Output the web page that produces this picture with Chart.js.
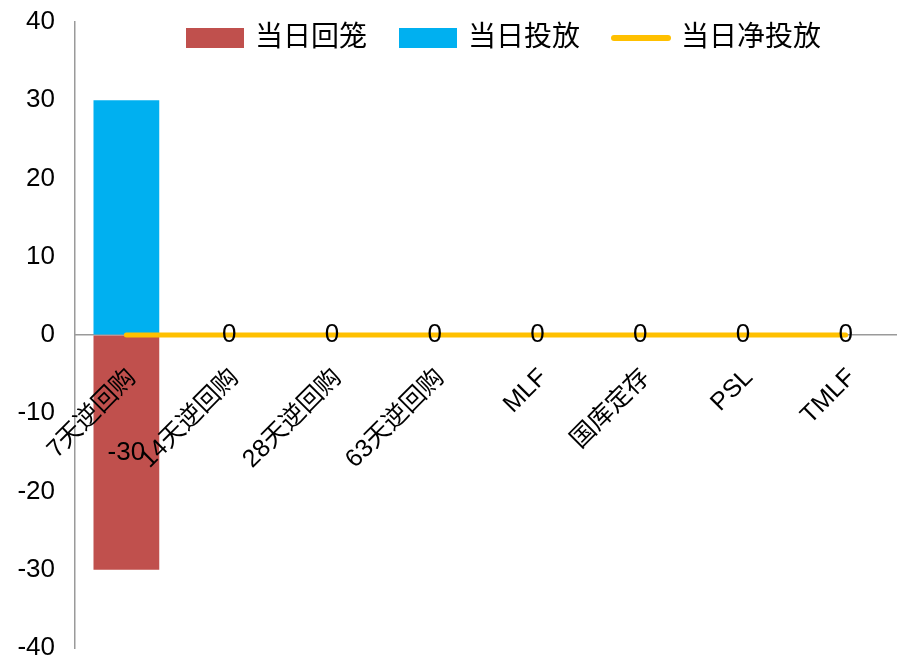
<!DOCTYPE html>
<html>
<head>
<meta charset="utf-8">
<script src="https://cdn.jsdelivr.net/npm/chart.js@4.4.0/dist/chart.umd.min.js"></script>
<style>
html,body{margin:0;padding:0;background:#ffffff;}
#wrap{width:897px;height:658px;position:relative;}
</style>
</head>
<body>
<div id="wrap"><canvas id="c" width="897" height="658"></canvas></div>
<script>
// ---- data ----
const categories = ['7天逆回购', '14天逆回购', '28天逆回购', '63天逆回购', 'MLF', '国库定存', 'PSL', 'TMLF'];
const withdrawal = [-30, 0, 0, 0, 0, 0, 0, 0];   // 当日回笼
const injection = [30, 0, 0, 0, 0, 0, 0, 0];     // 当日投放
const netInjection = [0, 0, 0, 0, 0, 0, 0, 0];   // 当日净投放
const seriesNames = ['当日回笼', '当日投放', '当日净投放'];
const yMin = -40, yMax = 40, yStep = 10;

// ---- styles ----
const FONT = "'Liberation Sans', 'Noto Sans CJK SC', sans-serif";
const colors = ['#C0504D', '#00B0F0', '#FFC000'];
const axisColor = '#9a9a9a';

const valueLabelPlugin = {
  id: 'valueLabels',
  afterDatasetsDraw(chart) {
    const ctx = chart.ctx;
    ctx.save();
    ctx.font = '26px ' + FONT;
    ctx.fillStyle = '#000';
    ctx.textAlign = 'center';
    ctx.textBaseline = 'middle';
    chart.data.datasets.forEach((ds, di) => {
      if (!ds.showValueLabels) return;
      const meta = chart.getDatasetMeta(di);
      meta.data.forEach((el, i) => {
        const v = ds.data[i];
        let x, y;
        if (ds.type === 'bar') {
          if (v === 0) return;
          x = el.x; y = (el.y + el.base) / 2;
        } else {
          const covered = chart.data.datasets.some(d => d.type === 'bar' && d.data[i] !== 0);
          if (covered) return;
          x = el.x; y = el.y;
        }
        ctx.fillText(String(v), x, y);
      });
    });
    ctx.restore();
  }
};

const legendPlugin = {
  id: 'customLegend',
  afterDraw(chart) {
    const ctx = chart.ctx;
    ctx.save();
    ctx.font = '28px ' + FONT;
    ctx.textBaseline = 'middle';
    ctx.textAlign = 'left';
    let x = 186;
    const yc = 38, boxW = 58, boxH = 20, gapText = 11, gapItem = 32;
    chart.data.datasets.forEach((ds) => {
      if (ds.type === 'bar') {
        ctx.fillStyle = ds.backgroundColor;
        ctx.fillRect(x, yc - boxH / 2, boxW, boxH);
      } else {
        ctx.strokeStyle = ds.borderColor;
        ctx.lineWidth = 6;
        ctx.lineCap = 'round';
        ctx.beginPath();
        ctx.moveTo(x + 2, yc);
        ctx.lineTo(x + boxW - 2, yc);
        ctx.stroke();
      }
      const tx = x + boxW + gapText;
      ctx.fillStyle = '#000';
      ctx.fillText(ds.label, tx, yc);
      x = tx + ctx.measureText(ds.label).width + gapItem;
    });
    ctx.restore();
  }
};

new Chart(document.getElementById('c'), {
  data: {
    labels: categories,
    datasets: [
      { type: 'bar', label: seriesNames[0], data: withdrawal, backgroundColor: colors[0], stack: 'flow', order: 2, showValueLabels: true },
      { type: 'bar', label: seriesNames[1], data: injection, backgroundColor: colors[1], stack: 'flow', order: 2, showValueLabels: false },
      { type: 'line', label: seriesNames[2], data: netInjection, borderColor: colors[2], backgroundColor: colors[2],
        borderWidth: 5, borderCapStyle: 'round', pointRadius: 0, tension: 0, stack: 'net', order: 0, showValueLabels: true }
    ]
  },
  options: {
    responsive: false,
    animation: false,
    devicePixelRatio: 1,
    layout: { padding: { top: 22, bottom: 10, left: 0, right: -3 } },
    datasets: { bar: { barPercentage: 0.64, categoryPercentage: 1.0 } },
    plugins: { legend: { display: false }, tooltip: { enabled: false } },
    scales: {
      x: {
        position: { y: 0 },
        stacked: true,
        grid: { display: true, color: 'rgba(0,0,0,0)', drawTicks: false },
        border: { display: true, color: axisColor, width: 1.5 },
        ticks: { autoSkip: false, minRotation: 45, maxRotation: 45, padding: 28, labelOffset: 6, z: 1,
                 color: '#000', font: { family: FONT, size: 25 } },
        afterFit(scale) { scale.paddingLeft = 0; scale.paddingRight = 0; }
      },
      y: {
        stacked: true,
        min: yMin, max: yMax,
        grid: { display: true, color: 'rgba(0,0,0,0)', drawTicks: false },
        border: { display: true, color: axisColor, width: 1.5 },
        ticks: { stepSize: yStep, padding: 20, color: '#000', font: { family: FONT, size: 26 } },
        afterFit(scale) { scale.width = 75; scale.paddingTop = 0; scale.paddingBottom = 0; }
      }
    }
  },
  plugins: [valueLabelPlugin, legendPlugin]
});
</script>
</body>
</html>
